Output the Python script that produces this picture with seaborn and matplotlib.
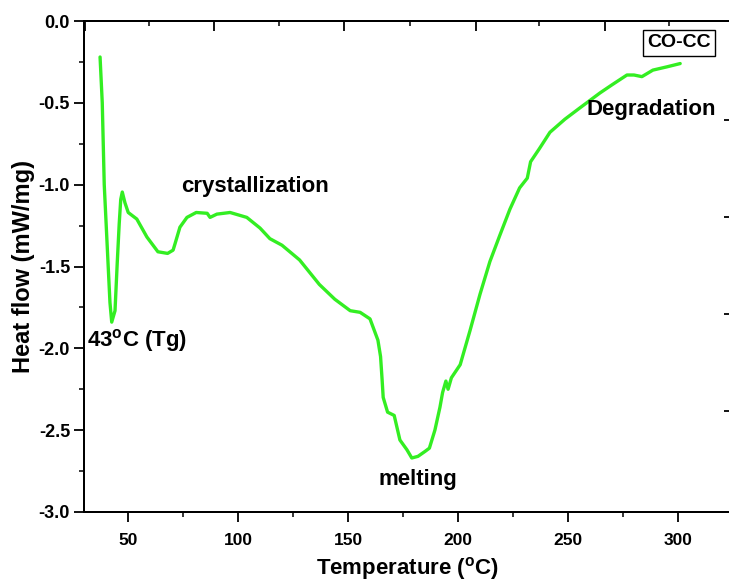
import matplotlib
matplotlib.use("Agg")
import matplotlib.pyplot as plt
import seaborn as sns
import pandas as pd

# DSC trace
temp = [37.3, 38.3, 39.2, 41.0, 41.8, 42.6, 44.1, 45.1, 46.0, 46.7, 47.4, 48.6, 50.1,
        54.0, 58.6, 63.6, 68.0, 70.5, 71.4, 73.6, 76.8, 81.0, 86.0, 87.3, 90.4, 96.4,
        104.0, 110.0, 114.5, 120.0, 128.0, 137.0, 144.0, 151.0, 155.5, 160.0, 163.6,
        164.8, 165.5, 166.0, 168.0, 171.0, 173.6, 176.8, 179.0, 181.8, 185.0, 187.0,
        189.5, 191.8, 193.0, 194.5, 195.5, 197.0, 201.0, 205.5, 210.0, 214.5, 219.0,
        223.6, 228.0, 231.5, 233.0, 237.0, 241.8, 248.6, 255.5, 264.5, 270.0, 276.8,
        280.0, 283.6, 288.6, 295.0, 301.0]
heat = [-0.22, -0.50, -1.00, -1.50, -1.72, -1.84, -1.77, -1.48, -1.24, -1.09, -1.045, -1.11, -1.17,
        -1.21, -1.32, -1.41, -1.42, -1.40, -1.36, -1.26, -1.20, -1.17, -1.175, -1.20, -1.18, -1.17,
        -1.20, -1.265, -1.33, -1.37, -1.46, -1.61, -1.70, -1.77, -1.78, -1.82, -1.95,
        -2.05, -2.19, -2.30, -2.39, -2.41, -2.56, -2.62, -2.67, -2.66, -2.63, -2.61,
        -2.50, -2.36, -2.27, -2.20, -2.25, -2.18, -2.10, -1.89, -1.67, -1.47, -1.31,
        -1.15, -1.02, -0.96, -0.86, -0.78, -0.68, -0.60, -0.53, -0.44, -0.39, -0.33,
        -0.33, -0.34, -0.30, -0.28, -0.26]

x_ticks = [50, 100, 150, 200, 250, 300]
y_ticks = [0.0, -0.5, -1.0, -1.5, -2.0, -2.5, -3.0]

df = pd.DataFrame({"Temperature": temp, "Heat flow": heat})

sns.set_style("ticks")
plt.rcParams["font.family"] = ["Liberation Sans", "DejaVu Sans"]
plt.rcParams["font.weight"] = "bold"
plt.rcParams["text.color"] = "black"
plt.rcParams["axes.labelcolor"] = "black"
plt.rcParams["xtick.color"] = "black"
plt.rcParams["ytick.color"] = "black"
plt.rcParams["mathtext.fontset"] = "custom"
plt.rcParams["mathtext.rm"] = "Liberation Sans:bold"
plt.rcParams["mathtext.it"] = "Liberation Sans:bold"
plt.rcParams["mathtext.bf"] = "Liberation Sans:bold"

fig = plt.figure(figsize=(7.29, 5.81), dpi=100)
ax = fig.add_axes([84 / 729, 69 / 581, 647 / 729, 491 / 581])

sns.lineplot(data=df, x="Temperature", y="Heat flow", color="#33ee22",
             linewidth=2.4, estimator=None, sort=False, ax=ax)

ax.set_xlim(30, 324.1)
ax.set_ylim(-3.0, 0.0)
ax.set_xticks(x_ticks)
ax.set_xticks([75, 125, 175, 225, 275], minor=True)
ax.set_yticks(y_ticks)
ax.set_yticks([-0.25, -0.75, -1.25, -1.75, -2.25, -2.75], minor=True)
ax.set_yticklabels([f"{v:.1f}" for v in y_ticks])
ax.tick_params(axis="both", which="major", direction="out", length=7, width=1.3, pad=3)
ax.tick_params(axis="both", which="minor", direction="out", length=3.5, width=1.1)
ax.tick_params(axis="x", labelsize=12.5, pad=8)
ax.tick_params(axis="y", labelsize=13)
for lab in ax.get_xticklabels() + ax.get_yticklabels():
    lab.set_fontweight("bold")

for s in ax.spines.values():
    s.set_linewidth(1.3)
    s.set_color("black")

ax.set_xlabel(r"Temperature ($^{\mathrm{o}}$C)", fontsize=16, fontweight="bold", labelpad=5)
ax.set_ylabel("Heat flow (mW/mg)", fontsize=17, fontweight="bold", labelpad=3)

# top and right ticks from the overlaid frame
top = ax.twiny()
top.set_xlim(ax.get_xlim())
top.set_xticks([30.5, 89.0, 148.0, 208.0, 267.0])
top.set_xticks([59.5, 118.6, 178.0, 237.0, 296.0], minor=True)
top.tick_params(axis="x", which="major", direction="in", length=7, width=1.3, labeltop=False)
top.tick_params(axis="x", which="minor", direction="in", length=3.5, width=1.1)
right = ax.twinx()
right.set_ylim(ax.get_ylim())
right.set_yticks([-0.605, -1.2, -1.79, -2.38])
right.tick_params(axis="y", direction="in", length=5, width=1.3, labelright=False)
for a in (top, right):
    for s in a.spines.values():
        s.set_linewidth(1.3)
        s.set_color("black")

txt = dict(fontsize=16, fontweight="bold", ha="center", va="center", color="black")
ax.text(54.1, -1.955, r"43$^{\mathrm{o}}$C (Tg)", **txt)
ax.text(107.6, -1.01, "crystallization", **txt)
ax.text(181.8, -2.80, "melting", **txt)
ax.text(288.0, -0.54, "Degradation", **txt)
ax.text(300.5, -0.134, "CO-CC", fontsize=14, fontweight="bold", ha="center", va="center",
        color="black", bbox=dict(boxstyle="square,pad=0.22", fc="white", ec="black", lw=1.0))

fig.savefig("out.png", dpi=100)
